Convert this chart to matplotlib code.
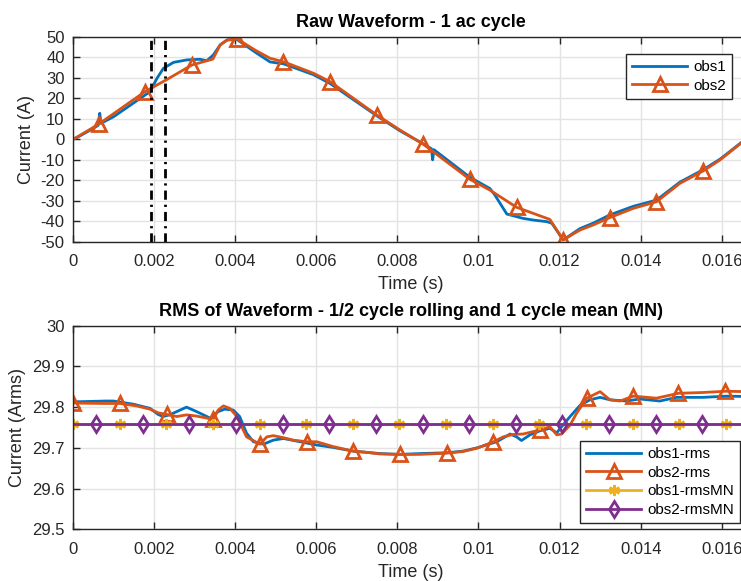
import numpy as np
import matplotlib
matplotlib.use('Agg')
import matplotlib.pyplot as plt

plt.rcParams['font.family'] = ['Liberation Sans', 'DejaVu Sans']
plt.rcParams['axes.unicode_minus'] = False

# matlab default colours
C_BLUE = '#0072BD'
C_ORANGE = '#D95319'
C_YELLOW = '#EDB120'
C_PURPLE = '#7E2F8E'
C_AX = '#262626'

T_END = 1 / 60

# ---- raw waveform (top) ----
obs1_t = [0.0, 0.00009, 0.00038, 0.00062, 0.00066, 0.00069, 0.0010, 0.0015, 0.00175, 0.0019,
          0.00207, 0.00223, 0.00248, 0.00281, 0.00313, 0.0033, 0.00346, 0.00363, 0.0038, 0.00404,
          0.00449, 0.00486, 0.00519, 0.00593, 0.00634, 0.00749, 0.00806, 0.00864, 0.00884, 0.00887,
          0.0089, 0.00979, 0.01028, 0.0104, 0.0107, 0.0111, 0.01135, 0.01169, 0.01181, 0.01209,
          0.0125, 0.01283, 0.01324, 0.01382, 0.01439, 0.01497, 0.01554, 0.01596, 0.01667]
obs1_i = [0.0, 0.8, 4.0, 6.8, 12.7, 7.8, 11.0, 17.8, 21.2, 23.2,
          29.7, 34.6, 37.5, 38.7, 39.0, 38.3, 41.1, 46.0, 48.4, 48.7,
          42.5, 37.7, 36.8, 31.5, 27.2, 11.5, 4.2, -2.2, -4.6, -10.0,
          -5.0, -18.5, -23.9, -27.0, -36.4, -38.5, -39.3, -40.1, -40.9, -49.0,
          -43.5, -40.8, -36.8, -32.6, -29.6, -20.8, -14.8, -9.6, 1.4]

obs2_t = [0.0, 0.00009, 0.00038, 0.00064, 0.00178, 0.00232, 0.00293, 0.00345, 0.00363, 0.0038,
          0.00404, 0.00449, 0.00486, 0.00519, 0.00593, 0.00634, 0.00749, 0.00806, 0.00864, 0.00979,
          0.01028, 0.01094, 0.01176, 0.01209, 0.0125, 0.01283, 0.01324, 0.01382, 0.01439, 0.01497,
          0.01554, 0.01596, 0.01667]
obs2_i = [0.0, 1.0, 4.4, 7.5, 23.3, 29.2, 36.2, 39.1, 46.0, 48.4,
          49.0, 43.5, 39.5, 37.8, 32.2, 28.1, 11.9, 4.6, -2.4, -19.5,
          -24.7, -33.1, -39.0, -49.0, -44.2, -41.7, -38.1, -33.6, -30.4, -21.4,
          -15.4, -10.0, 1.2]
obs2_mark_t = [0.00064, 0.00178, 0.00293, 0.00404, 0.00519, 0.00634, 0.00749, 0.00864,
               0.00979, 0.01094, 0.01209, 0.01324, 0.01439, 0.01554]

cursor_t = [0.00192, 0.00227]

# ---- rms (bottom) ----
rms1_t = [0.0, 0.0008, 0.001, 0.0015, 0.0019, 0.0021, 0.00222, 0.00238, 0.0028, 0.00305,
          0.0033, 0.00338, 0.00358, 0.00374, 0.00395, 0.00411, 0.00428, 0.00445, 0.0047, 0.00494,
          0.00519, 0.0056, 0.00601, 0.00642, 0.00691, 0.00757, 0.00806, 0.00856, 0.00922, 0.00962,
          0.00996, 0.01045, 0.01078, 0.01094, 0.01106, 0.01127, 0.01152, 0.01176, 0.01193, 0.01205,
          0.01226, 0.01251, 0.01275, 0.013, 0.01324, 0.01365, 0.01398, 0.01447, 0.01489, 0.01554,
          0.01612, 0.01667]
rms1_v = [29.813, 29.815, 29.815, 29.807, 29.797, 29.782, 29.777, 29.781, 29.800, 29.789,
          29.777, 29.773, 29.789, 29.795, 29.793, 29.777, 29.736, 29.715, 29.709, 29.719,
          29.723, 29.715, 29.707, 29.701, 29.692, 29.686, 29.684, 29.686, 29.688, 29.692,
          29.700, 29.715, 29.734, 29.727, 29.718, 29.732, 29.742, 29.748, 29.737, 29.752,
          29.777, 29.805, 29.818, 29.824, 29.818, 29.815, 29.820, 29.815, 29.824, 29.824,
          29.827, 29.826]

rms2_t = [0.0, 0.00075, 0.00116, 0.00157, 0.0019, 0.0021, 0.00231, 0.00256, 0.0028, 0.00305,
          0.0033, 0.00346, 0.00358, 0.00371, 0.00387, 0.00404, 0.00428, 0.00461, 0.00478, 0.00494,
          0.00519, 0.00543, 0.00576, 0.00601, 0.00642, 0.00691, 0.00724, 0.00757, 0.00806, 0.00856,
          0.00922, 0.00962, 0.00996, 0.01037, 0.01061, 0.01086, 0.0111, 0.01152, 0.01176, 0.01193,
          0.01205, 0.01226, 0.01242, 0.01267, 0.013, 0.01324, 0.01349, 0.01382, 0.01439, 0.01493,
          0.01554, 0.01608, 0.01667]
rms2_v = [29.810, 29.809, 29.809, 29.803, 29.795, 29.786, 29.782, 29.777, 29.781, 29.778,
          29.773, 29.770, 29.793, 29.803, 29.797, 29.777, 29.727, 29.709, 29.727, 29.730,
          29.725, 29.719, 29.715, 29.715, 29.703, 29.692, 29.689, 29.685, 29.684, 29.684,
          29.687, 29.691, 29.699, 29.715, 29.727, 29.733, 29.734, 29.744, 29.752, 29.732,
          29.734, 29.756, 29.785, 29.822, 29.838, 29.818, 29.815, 29.827, 29.822, 29.834,
          29.836, 29.839, 29.838]
rms2_mark_t = [0.0, 0.00116, 0.00231, 0.00346, 0.00461, 0.00576, 0.00691, 0.00806,
               0.00922, 0.01037, 0.01152, 0.01267, 0.01382, 0.01493, 0.01608]

rms1_mn = 29.759
rms2_mn = 29.759
mn1_mark_t = [0.0, 0.00115, 0.0023, 0.00345, 0.0046, 0.00575, 0.0069, 0.00805,
              0.0092, 0.01035, 0.0115, 0.01265, 0.0138, 0.01495, 0.0161]
mn2_mark_t = [0.00057, 0.00172, 0.00287, 0.00402, 0.00517, 0.00632, 0.00747, 0.00862,
              0.00977, 0.01092, 0.01207, 0.01322, 0.01437, 0.01552, 0.01665]

xticks = [0, 0.002, 0.004, 0.006, 0.008, 0.01, 0.012, 0.014, 0.016]
xticklabels = ['0', '0.002', '0.004', '0.006', '0.008', '0.01', '0.012', '0.014', '0.016']


def marks(t, mark_t):
    return [i for i, v in enumerate(t) if v in mark_t]


def style_axes(ax):
    ax.set_xlim(0, T_END)
    ax.set_xticks(xticks)
    ax.set_xticklabels(xticklabels)
    ax.grid(True, color='#e3e3e3', linewidth=1)
    ax.set_axisbelow(True)
    for s in ax.spines.values():
        s.set_color(C_AX)
        s.set_linewidth(1)
    ax.tick_params(direction='in', top=True, right=True, length=5, width=1,
                   colors=C_AX, labelsize=12)
    ax.tick_params(axis='x', pad=9)
    ax.tick_params(axis='y', pad=6)


fig = plt.figure(figsize=(7.41, 5.81), dpi=100)
W, H = 741, 581
x0, x1 = 73, 748.8

# top: raw waveform
ax1 = fig.add_axes([x0 / W, 1 - 242 / H, (x1 - x0) / W, (242 - 36.7) / H])
ax1.plot(obs1_t, obs1_i, color=C_BLUE, lw=2, label='obs1')
ax1.plot(obs2_t, obs2_i, color=C_ORANGE, lw=2, marker='^', ms=10, mfc='none', mew=2,
         markevery=marks(obs2_t, obs2_mark_t), label='obs2')
for c in cursor_t:
    ax1.axvline(c, color='k', lw=2, dashes=(3.3, 1.8, 0.8, 1.8))
ax1.set_ylim(-50, 50)
ax1.set_yticks(np.arange(-50, 51, 10))
style_axes(ax1)
ax1.set_title('Raw Waveform - 1 ac cycle', fontsize=13, fontweight='bold', pad=7)
ax1.set_xlabel('Time (s)', fontsize=13, color=C_AX, labelpad=5)
ax1.set_ylabel('Current (A)', fontsize=13, color=C_AX)
leg1 = ax1.legend(loc='upper right', bbox_to_anchor=(732 / W, 1 - 54 / H),
                  bbox_transform=fig.transFigure, fontsize=11, handlelength=3.6,
                  fancybox=False, framealpha=1, edgecolor=C_AX, labelspacing=0.3,
                  borderaxespad=0, handletextpad=0.4)
leg1.get_frame().set_linewidth(1)

# bottom: rms
ax2 = fig.add_axes([x0 / W, 1 - 529.3 / H, (x1 - x0) / W, (529.3 - 325.7) / H])
ax2.plot(rms1_t, rms1_v, color=C_BLUE, lw=2, label='obs1-rms')
ax2.plot(rms2_t, rms2_v, color=C_ORANGE, lw=2, marker='^', ms=10, mfc='none', mew=2,
         markevery=marks(rms2_t, rms2_mark_t), label='obs2-rms')
mn1_t = mn1_mark_t + [T_END]
ax2.plot(mn1_t, [rms1_mn] * len(mn1_t), color=C_YELLOW, lw=2, marker=(6, 2, 0), ms=8, mew=2,
         markevery=list(range(len(mn1_mark_t))), label='obs1-rmsMN')
mn2_t = [0.0] + mn2_mark_t + [T_END]
ax2.plot(mn2_t, [rms2_mn] * len(mn2_t), color=C_PURPLE, lw=2, marker='d', ms=8, mfc='none', mew=2,
         markevery=list(range(1, len(mn2_mark_t) + 1)), label='obs2-rmsMN')
ax2.set_ylim(29.5, 30)
ax2.set_yticks([29.5, 29.6, 29.7, 29.8, 29.9, 30])
ax2.set_yticklabels(['29.5', '29.6', '29.7', '29.8', '29.9', '30'])
style_axes(ax2)
ax2.set_title('RMS of Waveform - 1/2 cycle rolling and 1 cycle mean (MN)', fontsize=13,
              fontweight='bold', pad=7)
ax2.set_xlabel('Time (s)', fontsize=13, color=C_AX, labelpad=5)
ax2.set_ylabel('Current (Arms)', fontsize=13, color=C_AX)
leg2 = ax2.legend(loc='lower right', bbox_to_anchor=(740 / W, 1 - 523 / H),
                  bbox_transform=fig.transFigure, fontsize=11, handlelength=3.6,
                  fancybox=False, framealpha=1, edgecolor=C_AX, labelspacing=0.3,
                  borderaxespad=0, handletextpad=0.4)
leg2.get_frame().set_linewidth(1)

fig.savefig('out.png', dpi=100)
